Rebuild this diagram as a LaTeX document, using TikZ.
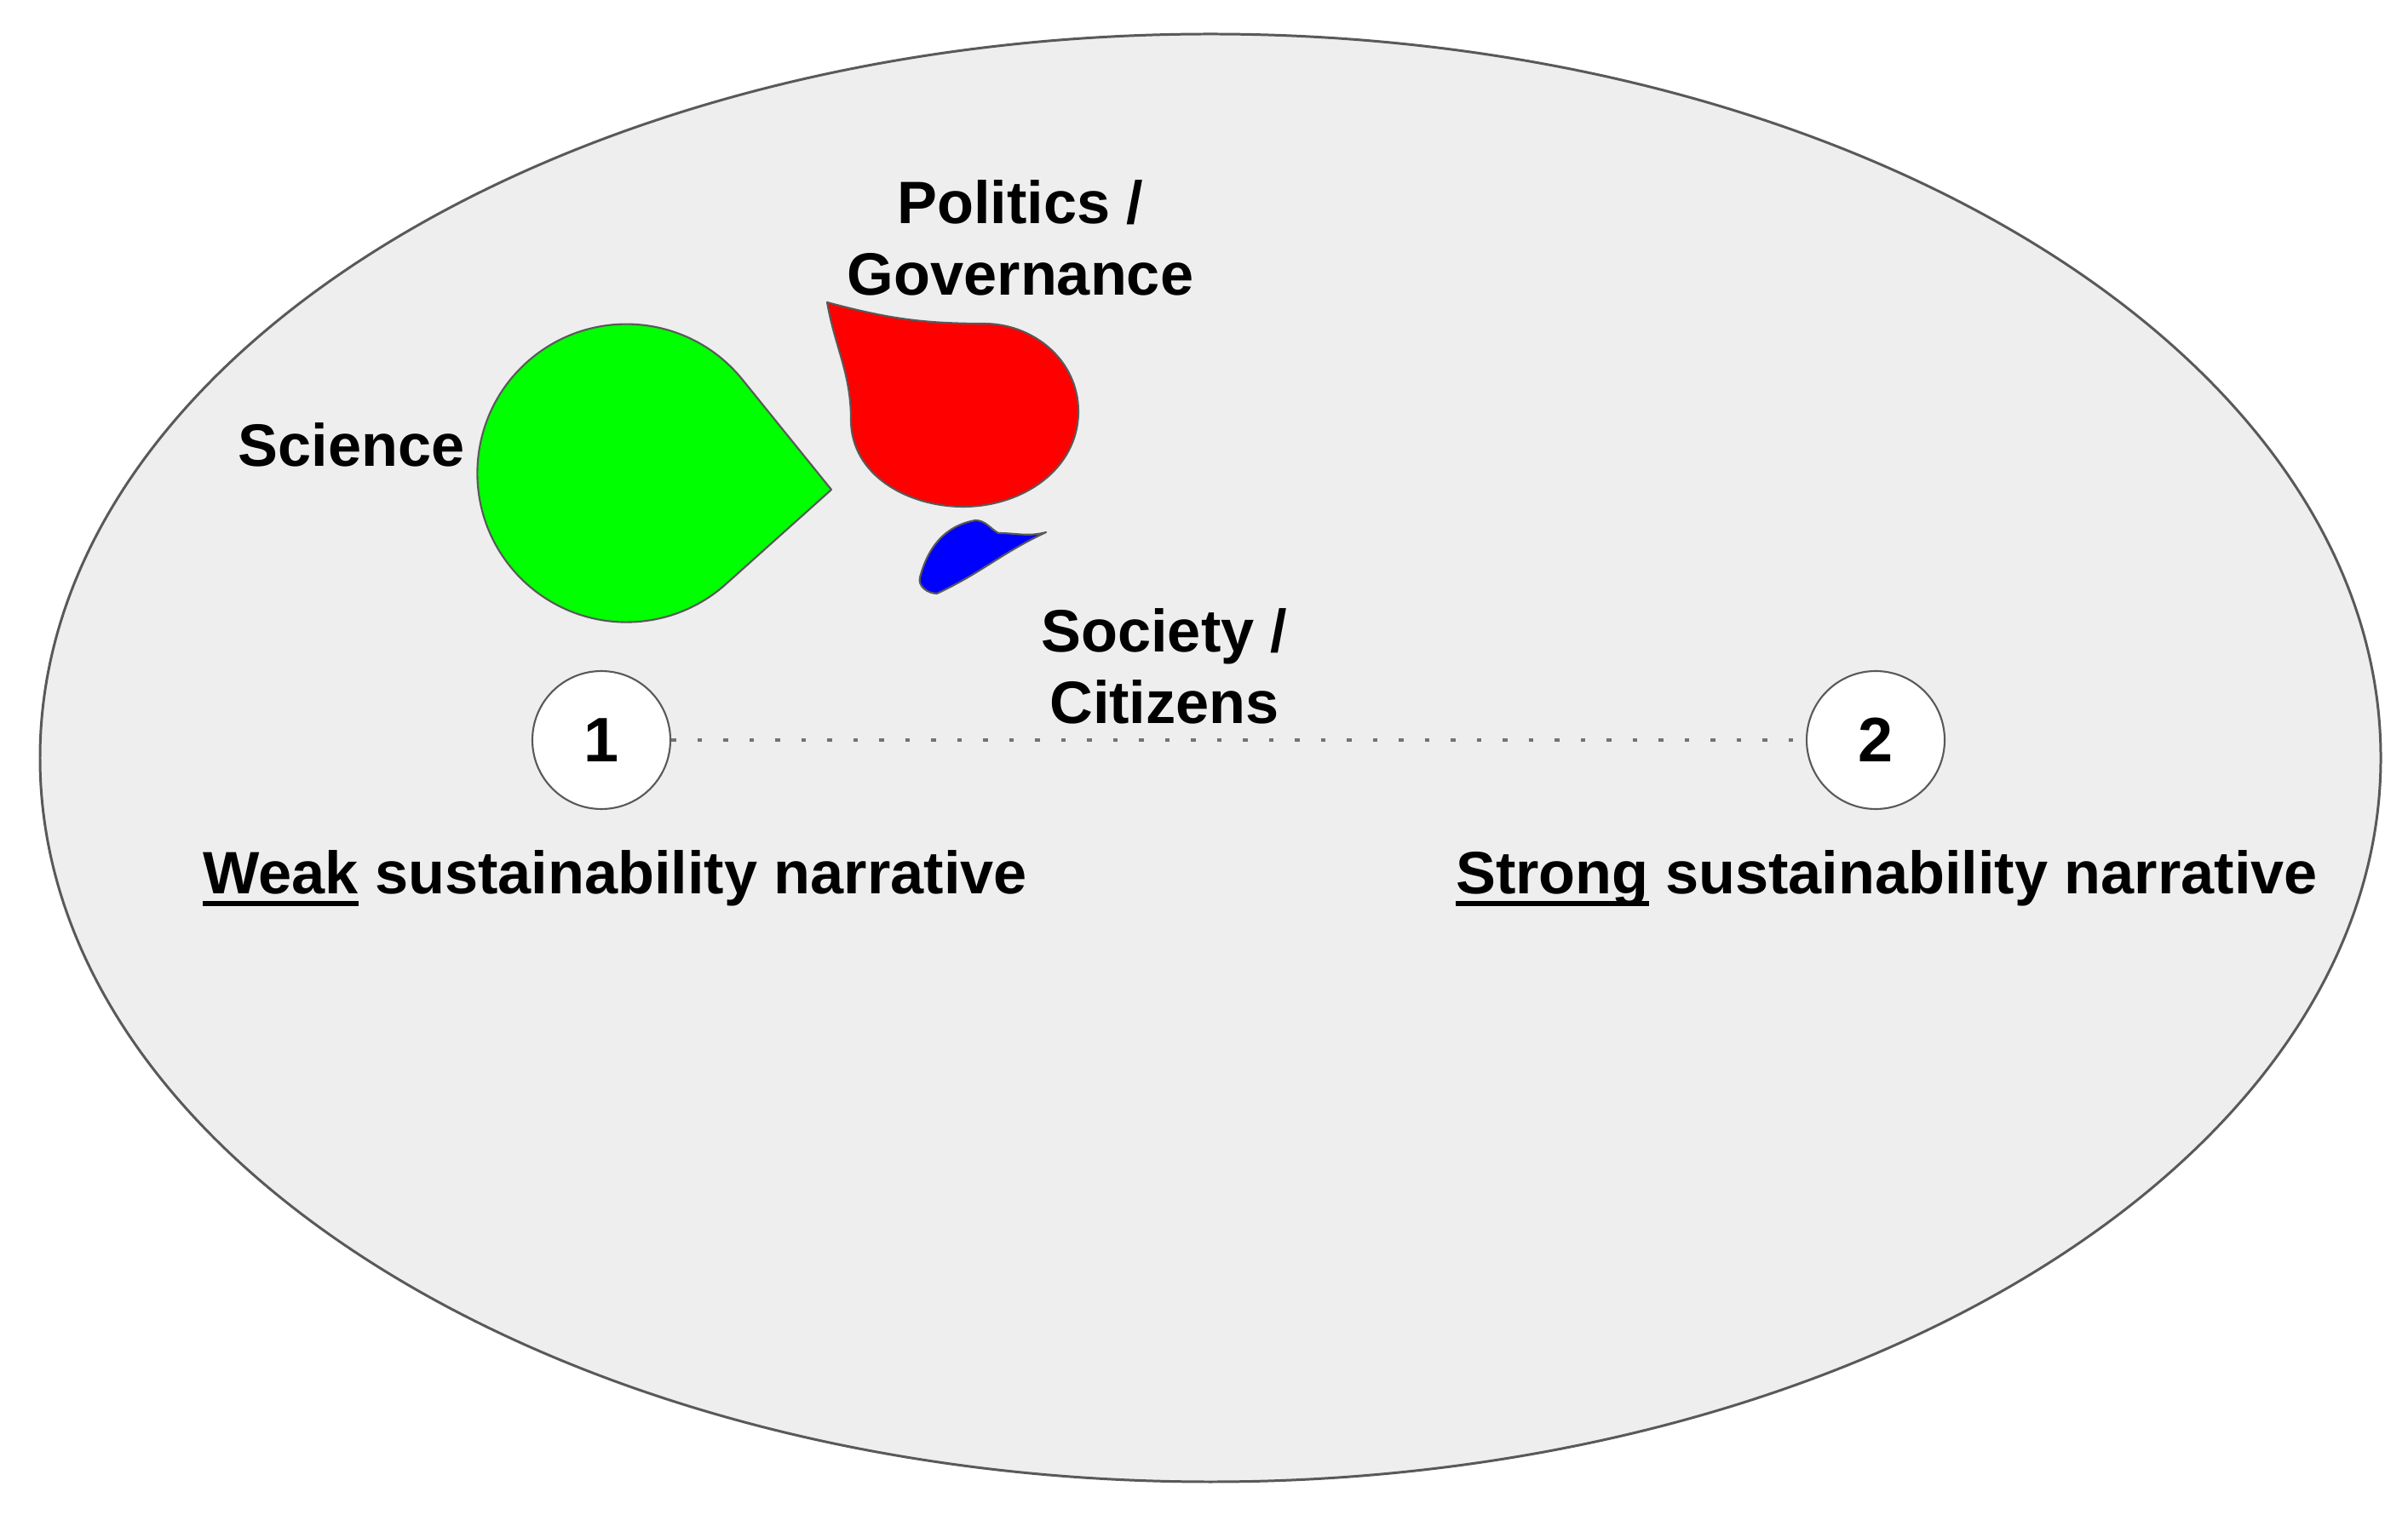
\documentclass[tikz,border=0pt]{standalone}
\usepackage{fontspec}
\setmainfont{Liberation Sans}
\usepackage{tikz}

\definecolor{ovalfill}{HTML}{EEEEEE}
\definecolor{edgegray}{HTML}{595959}
\definecolor{scigreen}{HTML}{00FF00}
\definecolor{polred}{HTML}{FF0000}
\definecolor{socblue}{HTML}{0000FF}

\newcommand{\ulword}[1]{\setbox0\hbox{#1}\rlap{\rule[-0.2em]{\wd0}{0.085em}}\box0\relax}

\tikzset{
  blob/.style={draw=edgegray, line width=0.6pt, line join=round},
  numcircle/.style={circle, draw=edgegray, line width=0.6pt, fill=white,
    minimum size=1.62cm, inner sep=0pt, font=\bfseries\fontsize{21}{25}\selectfont},
  lbl/.style={font=\bfseries\fontsize{20}{24}\selectfont, inner sep=0pt, align=center},
  dotline/.style={draw=gray!90!black, line width=0.045cm, dash pattern=on 0.055cm off 0.25cm}
}

\begin{document}
\begin{tikzpicture}
          \useasboundingbox (0,0) rectangle (28.27,17.78);
          \draw[fill=ovalfill, draw=edgegray, line width=0.85pt] (14.21,8.88) ellipse [x radius=13.74, y radius=8.50];
          % science
          \draw[blob, fill=scigreen] (9.76,12.03) -- (8.71,13.33) arc[start angle=39.2, end angle=311.8, radius=1.75] -- cycle;
          % politics / governance
          \draw[blob, fill=polred] (9.71,14.23) to[out=-15,in=180] (11.55,13.98) to[out=0,in=90] (12.66,12.95)
            to[out=-90,in=0] (11.31,11.83) to[out=180,in=-90] (9.99,12.85) to[out=90,in=-80] (9.71,14.23) -- cycle;
          % society / citizens
          \draw[blob, fill=socblue] (12.28,11.53) to[out=195,in=0] (11.72,11.52) to[out=150,in=0] (11.45,11.67)
            to[out=190,in=75] (10.80,11.00) to[out=-105,in=180] (11.00,10.81) to[out=25,in=205] (12.28,11.53) -- cycle;
          \node[lbl, anchor=base east] (science) at (5.46,12.30) {Science};
          \node[lbl, anchor=north] (politics) at (11.98,15.67) {Politics /\\Governance};
          \node[lbl, anchor=north] (society) at (13.67,10.64) {Society /\\Citizens};
          \node[numcircle] (n1) at (7.06,9.09) {1};
          \node[numcircle] (n2) at (22.02,9.09) {2};
          \draw[dotline] (n1) -- (n2);
          \node[lbl, anchor=base] (weak) at (7.22,7.28) {\ulword{Weak} sustainability narrative};
          \node[lbl, anchor=base] (strong) at (22.15,7.28) {\ulword{Strong} sustainability narrative};
\end{tikzpicture}
\end{document}
